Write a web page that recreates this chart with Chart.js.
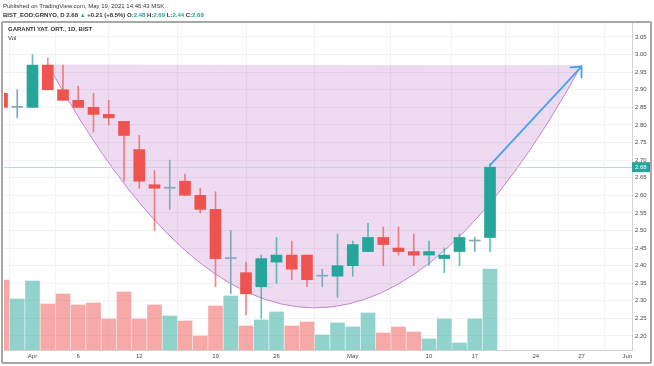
<!DOCTYPE html>
<html>
<head>
<meta charset="utf-8">
<script src="https://cdn.jsdelivr.net/npm/chart.js@4.4.0/dist/chart.umd.min.js"></script>
<style>
  body { margin: 0; background: #fff; }
  #wrap { position: relative; width: 654px; height: 366px; overflow: hidden; font-family: 'Liberation Sans', Arial, sans-serif; }
  #c { position: absolute; left: 0; top: 0; }
  .frame { position: absolute; left: 1px; top: 21px; width: 647px; height: 339px; border: 2px solid #a8a8a8; border-radius: 2px; pointer-events: none; }
  .txt { position: absolute; font-size: 6px; line-height: 8px; color: #333; white-space: nowrap; }
  .b { font-weight: bold; }
  .up { color: #26a69a; }
</style>
</head>
<body>
<div id="wrap">
  <canvas id="c" width="654" height="366"></canvas>
  <div class="frame"></div>
  <div class="txt" style="left:3px;top:2px;">Published on TradingView.com, May 19, 2021 14:46:43 MSK</div>
  <div class="txt b" style="left:3px;top:11px;">BIST_EOD:GRNYO, D 2.68 <span class="up">▲</span> +0.21 (+8.5%) O:<span class="up">2.48</span> H:<span class="up">2.69</span> L:<span class="up">2.44</span> C:<span class="up">2.68</span></div>
  <div class="txt b" style="left:8px;top:25px;">GARANTI YAT. ORT., 1D, BIST</div>
  <div class="txt" style="left:8px;top:34px;">Vol</div>
</div>
<script>
// trading days shown on the time axis (Turkish holidays skipped)
const days = ['Mar 30', 'Mar 31', 'Apr 1', 'Apr 2', 'Apr 5', 'Apr 6', 'Apr 7', 'Apr 8', 'Apr 9',
    'Apr 12', 'Apr 13', 'Apr 14', 'Apr 15', 'Apr 16', 'Apr 19', 'Apr 20', 'Apr 21', 'Apr 22',
    'Apr 26', 'Apr 27', 'Apr 28', 'Apr 29', 'Apr 30', 'May 3', 'May 4', 'May 5', 'May 6', 'May 7',
    'May 10', 'May 11', 'May 12', 'May 17', 'May 18', 'May 20', 'May 21', 'May 24', 'May 25',
    'May 26', 'May 27', 'May 28', 'May 31', 'Jun 1'];

const opens  = [2.89, 2.85, 2.85, 2.97, 2.90, 2.87, 2.85, 2.83, 2.81, 2.73, 2.63, 2.62, 2.64, 2.60, 2.56, 2.42, 2.38, 2.34, 2.41, 2.43, 2.43, 2.37, 2.37, 2.40, 2.44, 2.48, 2.45, 2.44, 2.43, 2.42, 2.44, 2.47, 2.48];
const highs  = [2.90, 2.90, 3.00, 2.99, 2.97, 2.91, 2.89, 2.87, 2.81, 2.77, 2.67, 2.70, 2.66, 2.62, 2.61, 2.50, 2.41, 2.43, 2.48, 2.47, 2.43, 2.39, 2.49, 2.47, 2.52, 2.51, 2.51, 2.49, 2.47, 2.45, 2.49, 2.48, 2.69];
const lows   = [2.84, 2.82, 2.85, 2.90, 2.87, 2.85, 2.78, 2.80, 2.64, 2.62, 2.50, 2.56, 2.60, 2.55, 2.34, 2.32, 2.26, 2.25, 2.35, 2.36, 2.34, 2.34, 2.31, 2.37, 2.44, 2.40, 2.43, 2.40, 2.40, 2.38, 2.40, 2.44, 2.44];
const closes = [2.85, 2.85, 2.97, 2.90, 2.87, 2.85, 2.83, 2.82, 2.77, 2.64, 2.62, 2.62, 2.60, 2.56, 2.42, 2.42, 2.32, 2.42, 2.43, 2.39, 2.36, 2.37, 2.40, 2.46, 2.48, 2.46, 2.44, 2.43, 2.44, 2.43, 2.48, 2.47, 2.68];
const volumes = [7.0, 5.1, 6.9, 4.6, 5.6, 4.5, 4.7, 3.1, 5.8, 3.1, 4.5, 3.4, 2.9, 1.4, 4.4, 5.4, 2.4, 3.0, 3.8, 2.4, 2.8, 1.5, 2.7, 2.3, 3.7, 1.7, 2.3, 1.8, 1.1, 3.1, 0.7, 3.1, 8.1];

const tickDays   = ['Apr 1', 'Apr 6', 'Apr 12', 'Apr 19', 'Apr 26', 'May 3', 'May 10', 'May 17', 'May 24', 'May 27', 'Jun 1'];
const tickLabels = ['Apr', '6', '12', '19', '26', 'May', '10', '17', '24', '27', 'Jun'];
const priceTicks = [2.20, 2.25, 2.30, 2.35, 2.40, 2.45, 2.50, 2.55, 2.60, 2.65, 2.70, 2.75, 2.80, 2.85, 2.90, 2.95, 3.00, 3.05];

const lastPrice = 2.68;
// drawings: arc (start, end, lowest price) and arrow
const arcStart = ['Apr 2', 2.972];
const arcEnd = ['May 27', 2.970];
const arcLow = 2.28;
const arrowFrom = ['May 18', 2.686];
const arrowTo = ['May 27', 2.966];

const UP = '#26a69a', DOWN = '#ef5350', DOJI = '#86a7b8';
const idx = d => days.indexOf(d);

const candleColor = i => opens[i] === closes[i] ? DOJI : (closes[i] > opens[i] ? UP : DOWN);
const wickColor = i => opens[i] === closes[i] ? DOJI : (closes[i] > opens[i] ? 'rgba(38,166,154,0.7)' : 'rgba(239,83,80,0.7)');
const volColor = i => closes[i] >= opens[i] ? 'rgba(38,166,154,0.5)' : 'rgba(239,83,80,0.5)';

const bodies = opens.map((o, i) => ({ x: i, y: [o, closes[i]] }));
const wicks = lows.map((l, i) => ({ x: i, y: [l, highs[i]] }));
const vols = volumes.map((v, i) => ({ x: i, y: v }));

const drawings = {
    id: 'drawings',
    beforeDatasetsDraw(chart) {
        const { ctx, chartArea: a, scales: { x, y } } = chart;
        ctx.save();
        ctx.beginPath();
        ctx.rect(a.left, a.top, a.right - a.left, a.bottom - a.top);
        ctx.clip();

        const x0 = x.getPixelForValue(idx(arcStart[0])), y0 = y.getPixelForValue(arcStart[1]);
        const x2 = x.getPixelForValue(idx(arcEnd[0])), y2 = y.getPixelForValue(arcEnd[1]);
        const yb = y.getPixelForValue(arcLow);
        const cx = (x0 + x2) / 2, cy = 2 * yb - (y0 + y2) / 2;
        ctx.beginPath();
        ctx.moveTo(x0, y0);
        ctx.quadraticCurveTo(cx, cy, x2, y2);
        ctx.closePath();
        ctx.fillStyle = 'rgba(156,39,176,0.17)';
        ctx.fill();
        ctx.beginPath();
        ctx.moveTo(x0, y0);
        ctx.quadraticCurveTo(cx, cy, x2, y2);
        ctx.strokeStyle = '#c084d0';
        ctx.lineWidth = 1;
        ctx.stroke();

        const py = Math.round(y.getPixelForValue(lastPrice)) + 0.5;
        ctx.beginPath();
        ctx.moveTo(a.left, py);
        ctx.lineTo(a.right, py);
        ctx.strokeStyle = '#c9d5de';
        ctx.stroke();
        ctx.restore();
    },
    afterDatasetsDraw(chart) {
        const { ctx, scales: { x, y } } = chart;
        const ax = x.getPixelForValue(idx(arrowFrom[0])), ay = y.getPixelForValue(arrowFrom[1]);
        const bx = x.getPixelForValue(idx(arrowTo[0])), by = y.getPixelForValue(arrowTo[1]);
        const ang = Math.atan2(by - ay, bx - ax);
        ctx.save();
        ctx.strokeStyle = '#45a1ef';
        ctx.lineWidth = 1.8;
        ctx.lineCap = 'round';
        ctx.beginPath();
        ctx.moveTo(ax, ay);
        ctx.lineTo(bx, by);
        const len = 11, spread = 0.75;
        ctx.moveTo(bx - len * Math.cos(ang - spread), by - len * Math.sin(ang - spread));
        ctx.lineTo(bx, by);
        ctx.lineTo(bx - len * Math.cos(ang + spread), by - len * Math.sin(ang + spread));
        ctx.stroke();
        ctx.restore();
    },
    afterDraw(chart) {
        const { ctx, chartArea: a, scales: { y } } = chart;
        const py = y.getPixelForValue(lastPrice);
        ctx.save();
        ctx.fillStyle = UP;
        ctx.fillRect(a.right, py - 5, 19, 10);
        ctx.fillStyle = '#fff';
        ctx.font = '6px "Liberation Sans", Arial, sans-serif';
        ctx.textBaseline = 'middle';
        ctx.fillText(lastPrice.toFixed(2), a.right + 3, py);
        ctx.restore();
    }
};

const gridColor = '#f1f2f5';

new Chart(document.getElementById('c'), {
    type: 'bar',
    data: {
        datasets: [
            {
                data: bodies,
                backgroundColor: bodies.map((d, i) => candleColor(i)),
                barThickness: 11,
                minBarLength: 1,
                grouped: false,
                order: 1,
                yAxisID: 'y'
            },
            {
                data: wicks,
                backgroundColor: wicks.map((d, i) => wickColor(i)),
                barThickness: 1,
                grouped: false,
                order: 2,
                yAxisID: 'y'
            },
            {
                data: vols,
                backgroundColor: vols.map((d, i) => volColor(i)),
                barThickness: 14,
                grouped: false,
                order: 3,
                yAxisID: 'v'
            }
        ]
    },
    plugins: [drawings],
    options: {
        responsive: false,
        animation: false,
        devicePixelRatio: 1,
        layout: { padding: { left: 4, top: 22, right: 3, bottom: 3 } },
        plugins: { legend: { display: false }, tooltip: { enabled: false } },
        scales: {
            x: {
                type: 'linear',
                offset: false,
                min: 0.131,
                max: 41.311,
                afterBuildTicks: s => { s.ticks = tickDays.map(d => ({ value: idx(d) })); },
                afterFit: s => { s.height = 13; },
                ticks: {
                    autoSkip: false,
                    maxRotation: 0,
                    padding: 3,
                    color: '#4a4a4a',
                    font: { size: 6, family: '"Liberation Sans", Arial, sans-serif' },
                    callback: (v, i) => tickLabels[i]
                },
                grid: { color: gridColor, drawTicks: false },
                border: { color: '#d3d3d3' }
            },
            y: {
                position: 'right',
                min: 2.1602,
                max: 3.0926,
                afterBuildTicks: s => { s.ticks = priceTicks.map(v => ({ value: v })); },
                afterFit: s => { s.width = 19; },
                ticks: {
                    padding: 3,
                    color: '#4a4a4a',
                    font: { size: 6, family: '"Liberation Sans", Arial, sans-serif' },
                    callback: v => v.toFixed(2)
                },
                grid: { color: gridColor, drawTicks: false },
                border: { color: '#d3d3d3' }
            },
            v: {
                display: false,
                min: 0,
                max: 32.8
            }
        }
    }
});
</script>
</body>
</html>
